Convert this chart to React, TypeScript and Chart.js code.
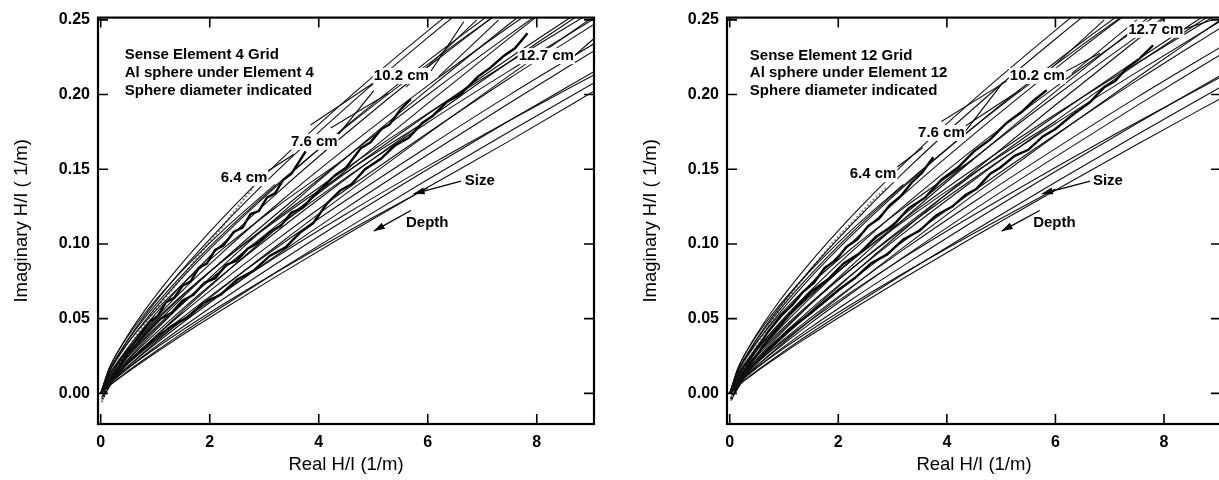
import React, { useEffect, useRef } from 'react';
import { Chart, registerables } from 'chart.js';

Chart.register(...registerables);

const FONT = '"Liberation Sans", Arial, Helvetica, sans-serif';

// ---- axes ----
const X_TICKS = [0, 2, 4, 6, 8];
const Y_TICKS = [0, 0.05, 0.1, 0.15, 0.2, 0.25];
const X_MIN = -0.05;
const X_MAX = 9.05;
const Y_MIN = -0.0205;
const Y_MAX = 0.2515;
const X_TITLE = 'Real H/I (1/m)';
const Y_TITLE = 'Imaginary H/I ( 1/m)';

// ---- model grid curves: y values at CURVE_X ----
const CURVE_X = [0, 0.15, 0.4, 0.8, 1.4, 2.2, 3.2, 4.5, 6, 7.5, 9.1];

const LEFT_MODEL_Y: number[][] = [
  [0, 0.0161, 0.0332, 0.0552, 0.0832, 0.116, 0.1528, 0.1963, 0.2426, 0.286, 0.33],
  [0, 0.0144, 0.0304, 0.0515, 0.0788, 0.111, 0.1476, 0.1913, 0.2381, 0.2818, 0.327],
  [0, 0.0135, 0.0284, 0.0481, 0.0736, 0.1037, 0.1379, 0.1788, 0.2225, 0.2633, 0.3055],
  [0, 0.0118, 0.0257, 0.0444, 0.0691, 0.0988, 0.1329, 0.1739, 0.2184, 0.2602, 0.303],
  [0, 0.0112, 0.0243, 0.0419, 0.0652, 0.0932, 0.1254, 0.1641, 0.206, 0.2455, 0.286],
  [0, 0.0097, 0.0217, 0.0383, 0.0606, 0.0878, 0.1194, 0.1579, 0.1999, 0.2401, 0.2815],
  [0, 0.0091, 0.0203, 0.0358, 0.0567, 0.082, 0.1116, 0.1476, 0.1868, 0.2245, 0.2632],
  [0, 0.008, 0.0184, 0.0331, 0.0532, 0.0782, 0.1075, 0.1436, 0.1834, 0.222, 0.2612],
  [0, 0.0076, 0.0174, 0.0314, 0.0506, 0.0743, 0.1021, 0.1364, 0.1743, 0.2109, 0.2481],
  [0, 0.0072, 0.0165, 0.0298, 0.0479, 0.0703, 0.0968, 0.1292, 0.1651, 0.1998, 0.2351],
  [0, 0.0062, 0.0148, 0.0271, 0.0444, 0.066, 0.0918, 0.124, 0.1597, 0.1944, 0.2303],
  [0, 0.0058, 0.0139, 0.0255, 0.0417, 0.062, 0.0862, 0.1165, 0.15, 0.1826, 0.2164],
  [0, 0.005, 0.0122, 0.0228, 0.038, 0.0573, 0.0807, 0.1101, 0.1431, 0.1753, 0.2089],
  [0, 0.0048, 0.0117, 0.022, 0.0367, 0.0553, 0.0778, 0.1061, 0.1379, 0.169, 0.2034],
  [0, 0.0146, 0.0301, 0.0501, 0.0755, 0.1053, 0.1387, 0.1782, 0.2202, 0.2596, 0.299],
  [0, 0.0113, 0.024, 0.0405, 0.062, 0.0874, 0.1162, 0.1505, 0.1874, 0.2218, 0.2573],
  [0, 0.0098, 0.0213, 0.0369, 0.0574, 0.082, 0.1103, 0.1444, 0.1813, 0.216, 0.2517],
  [0, 0.0074, 0.0165, 0.0292, 0.0461, 0.0668, 0.0909, 0.1201, 0.1521, 0.1827, 0.2142],
  [0, 0.006, 0.0138, 0.0248, 0.0399, 0.0586, 0.0806, 0.1077, 0.1376],
  [0, 0.0079, 0.0188, 0.0345, 0.0564, 0.084, 0.1168, 0.1578, 0.2033, 0.2474, 0.2932],
  [0, 0.0068, 0.0165, 0.031, 0.0516, 0.0778, 0.1095, 0.1494, 0.1941, 0.2379, 0.2835],
  [0, 0.0061, 0.0148, 0.0277, 0.0462, 0.0696, 0.098, 0.1337, 0.1737, 0.2128, 0.2536],
  [0, 0.0164, 0.0327, 0.0531, 0.0784, 0.1076, 0.1399],
  [0, 0.0146, 0.029, 0.0471, 0.0696, 0.0955, 0.1241, 0.1576],
  [0, 0.0122, 0.025, 0.0416, 0.0627, 0.0875, 0.1152, 0.148, 0.1829],
];

const RIGHT_MODEL_Y: number[][] = [
  [0, 0.0165, 0.0338, 0.056, 0.084, 0.1168, 0.1535, 0.1968, 0.243, 0.287, 0.331],
  [0, 0.0147, 0.0308, 0.052, 0.0792, 0.1112, 0.1478, 0.191, 0.2372, 0.2805, 0.325],
  [0, 0.0137, 0.0288, 0.0486, 0.074, 0.104, 0.138, 0.1785, 0.2218, 0.262, 0.3035],
  [0, 0.0121, 0.0262, 0.045, 0.0697, 0.0992, 0.133, 0.1735, 0.2175, 0.259, 0.301],
  [0, 0.0114, 0.0246, 0.0423, 0.0655, 0.0933, 0.1252, 0.1636, 0.205, 0.244, 0.284],
  [0, 0.01, 0.0221, 0.0387, 0.0609, 0.088, 0.1193, 0.1574, 0.199, 0.2388, 0.2795],
  [0, 0.0093, 0.0206, 0.0361, 0.0569, 0.0821, 0.1113, 0.147, 0.1858, 0.223, 0.2612],
  [0, 0.0082, 0.0187, 0.0334, 0.0534, 0.0781, 0.1071, 0.1428, 0.1822, 0.2205, 0.2592],
  [0, 0.0078, 0.0177, 0.0317, 0.0508, 0.0742, 0.1017, 0.1356, 0.1731, 0.2093, 0.246],
  [0, 0.0074, 0.0168, 0.0301, 0.048, 0.0701, 0.0962, 0.1283, 0.1638, 0.1981, 0.233],
  [0, 0.0064, 0.0151, 0.0274, 0.0445, 0.0658, 0.0912, 0.123, 0.1583, 0.1926, 0.228],
  [0, 0.006, 0.0142, 0.0258, 0.0418, 0.0617, 0.0855, 0.1154, 0.1485, 0.1806, 0.214],
  [0, 0.0052, 0.0125, 0.0231, 0.0381, 0.057, 0.0799, 0.1089, 0.1413, 0.1731, 0.2062],
  [0, 0.005, 0.012, 0.0223, 0.0368, 0.055, 0.077, 0.1048, 0.136, 0.1666, 0.1985],
  [0, 0.0149, 0.0305, 0.0506, 0.076, 0.1058, 0.139, 0.1783, 0.22, 0.2592, 0.2985],
  [0, 0.0116, 0.0244, 0.041, 0.0624, 0.0877, 0.1163, 0.1503, 0.1868, 0.221, 0.2562],
  [0, 0.0101, 0.0217, 0.0373, 0.0577, 0.0821, 0.1102, 0.144, 0.1806, 0.215, 0.2505],
  [0, 0.0077, 0.0169, 0.0296, 0.0464, 0.0669, 0.0907, 0.1195, 0.1512, 0.1815, 0.2128],
  [0, 0.0063, 0.0142, 0.0252, 0.0401, 0.0586, 0.0804, 0.1072, 0.1368],
  [0, 0.0081, 0.0191, 0.0348, 0.0566, 0.084, 0.1165, 0.157, 0.202, 0.2455, 0.291],
  [0, 0.007, 0.0168, 0.0313, 0.0518, 0.0778, 0.1092, 0.1487, 0.193, 0.2365, 0.2815],
  [0, 0.0063, 0.0151, 0.028, 0.0464, 0.0696, 0.0977, 0.133, 0.1726, 0.2112, 0.2515],
  [0, 0.0168, 0.0333, 0.0537, 0.0788, 0.1078, 0.1398],
  [0, 0.015, 0.0295, 0.0476, 0.0699, 0.0956, 0.124, 0.1572],
  [0, 0.0125, 0.0254, 0.042, 0.063, 0.0876, 0.115, 0.1476, 0.1822],
];

// ---- constant-depth grid segments [x1, y1, x2, y2] ----
const LEFT_GRID_LINES: number[][] = [
  [3.85, 0.1796, 5.01, 0.2079],
  [4.22, 0.1776, 5.27, 0.2007],
  [5.6, 0.205, 6.9, 0.25],
  [6.2, 0.212, 7.3, 0.25],
];
const RIGHT_GRID_LINES: number[][] = [
  [3.9, 0.182, 5.1, 0.209],
  [4.3, 0.178, 5.35, 0.203],
  [5.6, 0.207, 6.9, 0.25],
  [6.3, 0.214, 7.5, 0.25],
];

// ---- measured traces [x, y] ----
const LEFT_TRACE_64 = [[0.02, -0.006], [0.1, 0.004], [0.25, 0.016], [0.45, 0.027], [0.7, 0.041], [1.0, 0.056], [1.3, 0.069], [1.6, 0.083], [1.9, 0.097], [2.2, 0.11], [2.5, 0.124], [2.8, 0.138]];
const LEFT_TRACE_76 = [[0.03, -0.004], [0.15, 0.008], [0.35, 0.021], [0.6, 0.033], [0.9, 0.048], [1.05, 0.052], [1.2, 0.061], [1.35, 0.064], [1.5, 0.072], [1.65, 0.075], [1.8, 0.084], [1.95, 0.087], [2.1, 0.096], [2.25, 0.099], [2.44, 0.108], [2.6, 0.111], [2.75, 0.12], [2.9, 0.122], [3.05, 0.131], [3.2, 0.134], [3.35, 0.143], [3.5, 0.147], [3.62, 0.154], [3.76, 0.162]];
const LEFT_TRACE_102 = [[0.03, -0.003], [0.2, 0.01], [0.5, 0.026], [0.8, 0.039], [1.1, 0.05], [1.3, 0.054], [1.5, 0.062], [1.7, 0.066], [1.9, 0.074], [2.1, 0.077], [2.3, 0.086], [2.5, 0.089], [2.7, 0.097], [2.9, 0.101], [3.1, 0.108], [3.3, 0.112], [3.5, 0.121], [3.7, 0.124], [3.9, 0.132], [4.1, 0.139], [4.3, 0.146], [4.5, 0.151], [4.77, 0.164], [4.95, 0.168], [5.15, 0.177], [5.3, 0.18], [5.5, 0.19], [5.69, 0.197]];
const LEFT_TRACE_127 = [[0.03, -0.003], [0.2, 0.008], [0.5, 0.021], [0.9, 0.034], [1.3, 0.045], [1.6, 0.051], [1.9, 0.061], [2.2, 0.066], [2.5, 0.076], [2.8, 0.082], [3.1, 0.092], [3.4, 0.098], [3.67, 0.108], [3.9, 0.114], [4.15, 0.127], [4.4, 0.136], [4.6, 0.14], [4.85, 0.15], [5.14, 0.157], [5.4, 0.166], [5.65, 0.171], [5.9, 0.181], [6.1, 0.186], [6.35, 0.195], [6.6, 0.2], [6.92, 0.212], [7.15, 0.218], [7.4, 0.226], [7.6, 0.231], [7.83, 0.241]];

const RIGHT_TRACE_64 = [[0.02, -0.005], [0.1, 0.006], [0.3, 0.02], [0.55, 0.035], [0.8, 0.05], [1.1, 0.065], [1.4, 0.079], [1.7, 0.092], [2.0, 0.105], [2.3, 0.116], [2.6, 0.128], [2.9, 0.138]];
const RIGHT_TRACE_76 = [[0.03, -0.004], [0.2, 0.013], [0.45, 0.027], [0.7, 0.041], [0.95, 0.052], [1.15, 0.059], [1.35, 0.068], [1.55, 0.074], [1.75, 0.084], [1.95, 0.089], [2.15, 0.098], [2.35, 0.103], [2.55, 0.112], [2.75, 0.117], [2.95, 0.126], [3.15, 0.132], [3.35, 0.141], [3.55, 0.148], [3.75, 0.158]];
const RIGHT_TRACE_102 = [[0.03, -0.003], [0.25, 0.013], [0.6, 0.031], [0.9, 0.044], [1.2, 0.057], [1.5, 0.068], [1.8, 0.076], [2.1, 0.087], [2.4, 0.094], [2.7, 0.105], [3.0, 0.112], [3.3, 0.124], [3.6, 0.131], [3.9, 0.143], [4.2, 0.151], [4.5, 0.162], [4.8, 0.17], [5.1, 0.181], [5.4, 0.189], [5.6, 0.196], [5.84, 0.203]];
const RIGHT_TRACE_127 = [[0.03, -0.003], [0.3, 0.013], [0.7, 0.029], [1.1, 0.043], [1.5, 0.054], [1.8, 0.063], [2.03, 0.07], [2.3, 0.077], [2.6, 0.087], [2.9, 0.093], [3.2, 0.103], [3.5, 0.109], [3.8, 0.119], [4.1, 0.125], [4.35, 0.133], [4.55, 0.137], [4.8, 0.147], [4.98, 0.151], [5.25, 0.159], [5.5, 0.163], [5.77, 0.172], [6.0, 0.177], [6.3, 0.186], [6.64, 0.195], [6.9, 0.205], [7.1, 0.209], [7.32, 0.218], [7.55, 0.224], [7.8, 0.233]];

// ---- text annotations ----
const SIZE_LABELS = ['6.4 cm', '7.6 cm', '10.2 cm', '12.7 cm'];
const LEFT_HEADER = ['Sense Element 4 Grid', 'Al sphere under Element 4', 'Sphere diameter indicated'];
const RIGHT_HEADER = ['Sense Element 12 Grid', 'Al sphere under Element 12', 'Sphere diameter indicated'];

type Panel = {
  model: number[][];
  grid: number[][];
  gray: number[][];
  thick: number[][][];
  header: string[];
  headerAt: number[][];
  sizeAt: number[][];
  leaders: number[][];
  sizeLabelAt: number[];
  depthLabelAt: number[];
  sizeArrow: number[];
  depthArrow: number[];
};

const LEFT_PANEL: Panel = {
  model: LEFT_MODEL_Y,
  grid: LEFT_GRID_LINES,
  gray: LEFT_TRACE_64,
  thick: [LEFT_TRACE_76, LEFT_TRACE_102, LEFT_TRACE_127],
  header: LEFT_HEADER,
  headerAt: [[0.44, 0.2263], [0.44, 0.2145], [0.44, 0.2026]],
  sizeAt: [[2.2, 0.1441], [3.49, 0.1684], [5.01, 0.2125], [7.67, 0.2257]],
  leaders: [[3.06, 0.1487, 3.54, 0.1599], [4.28, 0.1697, 5.01, 0.2026], [6.06, 0.2158, 6.66, 0.2487], [8.68, 0.2257, 9.05, 0.2375]],
  sizeLabelAt: [6.68, 0.1421],
  depthLabelAt: [5.6, 0.1138],
  sizeArrow: [6.61, 0.1421, 5.74, 0.1336],
  depthArrow: [5.69, 0.1224, 5.01, 0.1086],
};

const RIGHT_PANEL: Panel = {
  model: RIGHT_MODEL_Y,
  grid: RIGHT_GRID_LINES,
  gray: RIGHT_TRACE_64,
  thick: [RIGHT_TRACE_76, RIGHT_TRACE_102, RIGHT_TRACE_127],
  header: RIGHT_HEADER,
  headerAt: [[0.37, 0.2257], [0.37, 0.2145], [0.37, 0.2026]],
  sizeAt: [[2.21, 0.1467], [3.47, 0.1743], [5.16, 0.2125], [7.34, 0.2434]],
  leaders: [[3.08, 0.1513, 3.56, 0.1645], [4.29, 0.173, 5.03, 0.208], [6.14, 0.2145, 6.82, 0.2276], [8.33, 0.2434, 8.9, 0.25]],
  sizeLabelAt: [6.69, 0.1421],
  depthLabelAt: [5.59, 0.1138],
  sizeArrow: [6.64, 0.1421, 5.75, 0.1336],
  depthArrow: [5.71, 0.1224, 5.01, 0.1086],
};

function makeDecor(p: Panel) {
  return {
    id: 'decor',
    afterDraw(chart: any) {
      const { ctx, chartArea: a } = chart;
      const xs = chart.scales.x;
      const ys = chart.scales.y;
      const X = (v: number) => xs.getPixelForValue(v);
      const Y = (v: number) => ys.getPixelForValue(v);
      ctx.save();
      ctx.strokeStyle = '#000';
      ctx.fillStyle = '#000';
      // frame
      ctx.lineWidth = 2.2;
      ctx.strokeRect(a.left, a.top, a.right - a.left, a.bottom - a.top);
      // inward ticks
      ctx.lineWidth = 1.6;
      ctx.beginPath();
      X_TICKS.forEach((v) => {
        const px = X(v);
        ctx.moveTo(px, a.bottom); ctx.lineTo(px, a.bottom - 10);
        ctx.moveTo(px, a.top); ctx.lineTo(px, a.top + 10);
      });
      Y_TICKS.forEach((v) => {
        const py = Y(v);
        ctx.moveTo(a.left, py); ctx.lineTo(a.left + 10, py);
        ctx.moveTo(a.right, py); ctx.lineTo(a.right - 10, py);
      });
      ctx.stroke();
      // leader lines
      ctx.lineWidth = 1.1;
      ctx.beginPath();
      p.leaders.forEach(([x1, y1, x2, y2]) => {
        ctx.moveTo(X(x1), Y(y1)); ctx.lineTo(X(x2), Y(y2));
      });
      ctx.stroke();
      // arrows
      const arrow = ([x1, y1, x2, y2]: number[]) => {
        const ax = X(x1), ay = Y(y1), bx = X(x2), by = Y(y2);
        const ang = Math.atan2(by - ay, bx - ax);
        ctx.lineWidth = 1.3;
        ctx.beginPath(); ctx.moveTo(ax, ay); ctx.lineTo(bx, by); ctx.stroke();
        ctx.beginPath();
        ctx.moveTo(bx, by);
        ctx.lineTo(bx - 11 * Math.cos(ang) + 3.5 * Math.sin(ang), by - 11 * Math.sin(ang) - 3.5 * Math.cos(ang));
        ctx.lineTo(bx - 11 * Math.cos(ang) - 3.5 * Math.sin(ang), by - 11 * Math.sin(ang) + 3.5 * Math.cos(ang));
        ctx.closePath(); ctx.fill();
      };
      arrow(p.sizeArrow);
      arrow(p.depthArrow);
      // texts
      ctx.textAlign = 'left';
      ctx.textBaseline = 'middle';
      ctx.font = `bold 15px ${FONT}`;
      p.header.forEach((t, i) => ctx.fillText(t, X(p.headerAt[i][0]), Y(p.headerAt[i][1])));
      SIZE_LABELS.forEach((t, i) => {
        const tx = X(p.sizeAt[i][0]), ty = Y(p.sizeAt[i][1]);
        const w = ctx.measureText(t).width;
        ctx.fillStyle = '#fff';
        ctx.fillRect(tx - 1, ty - 8, w + 2, 16);
        ctx.fillStyle = '#000';
        ctx.fillText(t, tx, ty);
      });
      ctx.fillText('Size', X(p.sizeLabelAt[0]), Y(p.sizeLabelAt[1]));
      ctx.fillText('Depth', X(p.depthLabelAt[0]), Y(p.depthLabelAt[1]));
      // axis titles
      ctx.font = `18.5px ${FONT}`;
      ctx.textAlign = 'center';
      ctx.fillText(X_TITLE, (a.left + a.right) / 2, a.bottom + 41);
      ctx.translate(a.left - 76, (a.top + a.bottom) / 2);
      ctx.rotate(-Math.PI / 2);
      ctx.fillText(Y_TITLE, 0, 0);
      ctx.restore();
    },
  };
}

function buildDatasets(p: Panel) {
  const ds: any[] = [];
  p.model.forEach((ys) => {
    ds.push({
      data: ys.map((y, i) => ({ x: CURVE_X[i], y })),
      borderColor: '#111',
      borderWidth: 1.1,
      pointRadius: 0,
      showLine: true,
      cubicInterpolationMode: 'monotone',
    });
  });
  p.grid.forEach(([x1, y1, x2, y2]) => {
    ds.push({
      data: [{ x: x1, y: y1 }, { x: x2, y: y2 }],
      borderColor: '#111',
      borderWidth: 1.1,
      pointRadius: 0,
      showLine: true,
    });
  });
  ds.push({
    data: p.gray.map(([x, y]) => ({ x, y })),
    borderColor: '#8a8a8a',
    borderWidth: 2.2,
    borderDash: [2, 2],
    pointRadius: 0,
    showLine: true,
  });
  p.thick.forEach((tr) => {
    ds.push({
      data: tr.map(([x, y]) => ({ x, y })),
      borderColor: '#000',
      borderWidth: 2.4,
      pointRadius: 0,
      showLine: true,
      tension: 0,
    });
  });
  return ds;
}

function PanelChart({ panel, left, width, yWidth, padRight }: { panel: Panel; left: number; width: number; yWidth: number; padRight: number }) {
  const ref = useRef<HTMLCanvasElement | null>(null);
  useEffect(() => {
    if (!ref.current) return;
    const tickFont = { family: FONT, size: 16, weight: 'bold' as const };
    const chart = new Chart(ref.current, {
      type: 'scatter',
      data: { datasets: buildDatasets(panel) },
      options: {
        animation: false,
        responsive: false,
        maintainAspectRatio: false,
        events: [],
        layout: { padding: { left: 0, right: padRight, top: 11, bottom: 0 } },
        plugins: { legend: { display: false }, tooltip: { enabled: false } },
        scales: {
          x: {
            type: 'linear',
            min: X_MIN,
            max: X_MAX,
            grid: { display: false, drawTicks: false },
            border: { display: false },
            ticks: { font: tickFont, color: '#000', padding: 9, callback: (v: any) => String(v) },
            afterBuildTicks: (s: any) => { s.ticks = X_TICKS.map((value) => ({ value })); },
            afterFit: (s: any) => { s.height = 56; },
          },
          y: {
            type: 'linear',
            min: Y_MIN,
            max: Y_MAX,
            grid: { display: false, drawTicks: false },
            border: { display: false },
            ticks: { font: tickFont, color: '#000', padding: 8, callback: (v: any) => Number(v).toFixed(2) },
            afterBuildTicks: (s: any) => { s.ticks = Y_TICKS.map((value) => ({ value })); },
            afterFit: (s: any) => { s.width = yWidth; },
          },
        },
      } as any,
      plugins: [makeDecor(panel)],
    });
    return () => chart.destroy();
  }, [panel, width, yWidth, padRight]);
  return (
    <canvas
      ref={ref}
      width={width}
      height={480}
      style={{ position: 'absolute', left, top: 0, width, height: 480, display: 'block' }}
    />
  );
}

export default function App() {
  return (
    <div style={{ position: 'fixed', left: 0, top: 0, width: 1219, height: 480, overflow: 'hidden', background: '#fff' }}>
      <PanelChart panel={LEFT_PANEL} left={0} width={610} yWidth={98} padRight={16} />
      <PanelChart panel={RIGHT_PANEL} left={610} width={620} yWidth={117} padRight={9} />
    </div>
  );
}
